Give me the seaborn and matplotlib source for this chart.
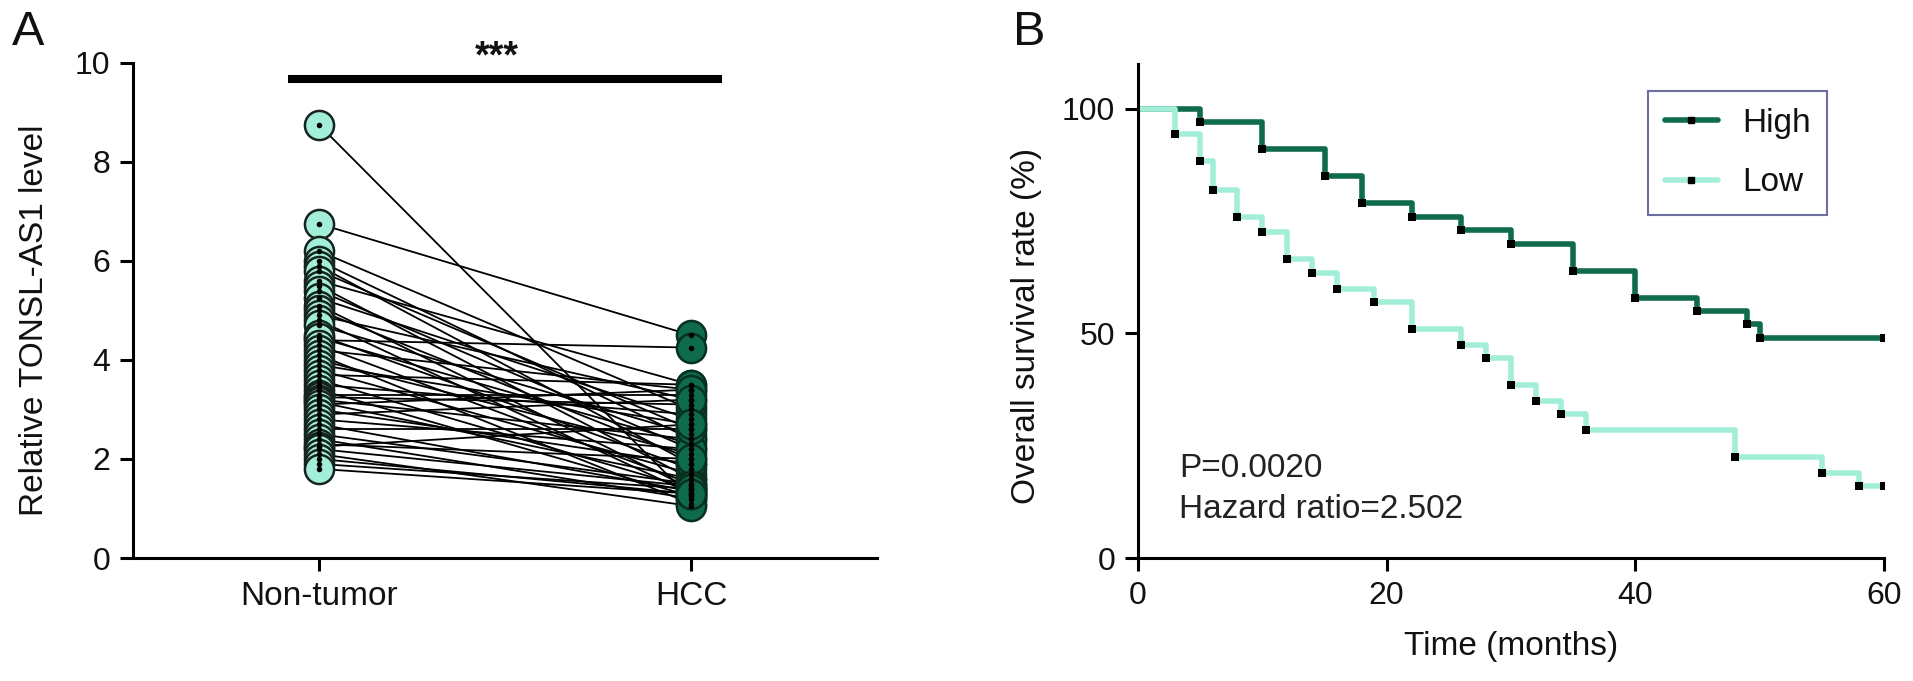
import numpy as np
import pandas as pd
import matplotlib
matplotlib.use("Agg")
import matplotlib.pyplot as plt
from matplotlib.lines import Line2D
import seaborn as sns

# ---- panel A data (paired samples) ----
groups = ["Non-tumor", "HCC"]
non_tumor = [8.75, 6.75, 6.2, 6.0, 5.9, 5.8, 5.6, 5.5, 5.4, 5.25, 5.1, 5.0, 4.9, 4.8,
             4.7, 4.4, 4.5, 4.45, 4.3, 4.2, 4.1, 4.0, 3.9, 3.8, 3.7, 3.6, 3.5, 3.4,
             3.3, 3.25, 3.2, 3.15, 3.1, 3.0, 2.9, 2.8, 2.7, 2.6, 2.5, 2.4, 2.3, 2.25,
             2.2, 2.1, 2.0, 1.9, 1.8]
hcc = [1.2, 4.5, 3.0, 2.4, 1.9, 2.6, 3.5, 1.6, 2.2, 2.8, 1.4, 2.0, 3.2, 1.3,
       2.5, 4.25, 1.8, 2.3, 1.5, 3.4, 1.1, 2.1, 2.7, 1.7, 3.5, 1.4, 2.9, 1.25,
       3.3, 3.1, 2.4, 1.6, 3.4, 1.9, 3.2, 2.2, 1.35, 2.6, 1.5, 1.2, 2.0, 2.7,
       1.45, 1.05, 1.3, 1.4, 1.3]

# ---- panel B data (Kaplan-Meier curves) ----
km_groups = ["High", "Low"]
high_t = [0, 5, 10, 15, 18, 22, 26, 30, 35, 40, 45, 49, 50, 60]
high_s = [100, 97, 91, 85, 79, 76, 73, 70, 64, 58, 55, 52, 49, 49]
low_t = [0, 3, 5, 6, 8, 10, 12, 14, 16, 19, 22, 26, 28, 30, 32, 34, 36, 48, 55, 58, 60]
low_s = [100, 94.5, 88.5, 82, 76, 72.5, 66.5, 63.5, 60, 57, 51, 47.5, 44.5, 38.5,
         35, 32, 28.5, 22.5, 19, 16, 16]

light = "#A3EED8"
dark = "#0E6B4B"

sns.set_style("white")
plt.rcParams["font.family"] = ["Liberation Sans", "DejaVu Sans"]
plt.rcParams["axes.linewidth"] = 2.2
plt.rcParams["axes.edgecolor"] = "black"
plt.rcParams["text.color"] = "#111111"
plt.rcParams["axes.labelcolor"] = "#111111"
plt.rcParams["xtick.color"] = "black"
plt.rcParams["ytick.color"] = "black"
plt.rcParams["xtick.labelcolor"] = "#111111"
plt.rcParams["ytick.labelcolor"] = "#111111"

fig = plt.figure(figsize=(19.13, 6.81), dpi=100)
axA = fig.add_axes([0.0695, 0.1806, 0.389, 0.727])
axB = fig.add_axes([0.5949, 0.1806, 0.3899, 0.7254])

# ---------- panel A ----------
n = len(non_tumor)
pairs = pd.DataFrame({
    "pair": list(range(n)) * 2,
    "group": [groups[0]] * n + [groups[1]] * n,
    "value": non_tumor + hcc,
})
pairs["pos"] = pairs["group"].map({g: i for i, g in enumerate(groups)})

sns.lineplot(data=pairs, x="pos", y="value", units="pair", estimator=None,
             sort=False, color="black", lw=1.3, ax=axA, zorder=1)
sns.scatterplot(data=pairs[pairs.group == "Non-tumor"], x="pos", y="value",
                color=light, edgecolor="#16241f", linewidth=1.8, s=440,
                ax=axA, zorder=3, legend=False)
sns.scatterplot(data=pairs[pairs.group == "HCC"], x="pos", y="value",
                color=dark, edgecolor="#08301f", linewidth=1.8, s=440,
                ax=axA, zorder=3, legend=False)
sns.scatterplot(data=pairs, x="pos", y="value", color="black", s=16,
                linewidth=0, ax=axA, zorder=4, legend=False)

axA.set_xlim(-0.5, 1.5)
axA.set_ylim(0, 10)
axA.set_xticks([0, 1])
axA.set_xticklabels(groups, fontsize=24)
axA.set_yticks([0, 2, 4, 6, 8, 10])
axA.tick_params(axis="y", labelsize=23, length=9.4, width=2.2, pad=7, direction="out", left=True)
axA.tick_params(axis="x", length=9.4, width=2.2, pad=7, direction="out", bottom=True)
axA.set_xlabel("")
axA.set_ylabel("Relative TONSL-AS1 level", fontsize=24)
axA.yaxis.set_label_coords(-0.112, 0.48)
sns.despine(ax=axA)

# significance bar
axA.plot([-0.084, 1.084], [9.68, 9.68], color="black", lw=5.8, clip_on=False,
         solid_capstyle="butt")
axA.text(0.477, 10.1, "***", ha="center", va="center", fontsize=27,
         fontweight="bold", clip_on=False)

# ---------- panel B ----------
km = pd.DataFrame({
    "group": [km_groups[0]] * len(high_t) + [km_groups[1]] * len(low_t),
    "time": high_t + low_t,
    "surv": high_s + low_s,
})
palette = {"High": dark, "Low": light}
sns.lineplot(data=km, x="time", y="surv", hue="group", hue_order=km_groups,
             palette=palette, estimator=None, sort=False, drawstyle="steps-post",
             lw=4.0, ax=axB, legend=False)
sns.scatterplot(data=km[km.time > 0], x="time", y="surv", marker="s", s=26,
                color="black", linewidth=0, ax=axB, zorder=5, legend=False)

axB.set_xlim(0, 60)
axB.set_ylim(0, 110)
axB.set_xticks([0, 20, 40, 60])
axB.set_yticks([0, 50, 100])
axB.tick_params(axis="both", labelsize=23, length=9.4, width=2.2, pad=7,
                direction="out", left=True, bottom=True)
axB.set_xlabel("Time (months)", fontsize=24)
axB.set_ylabel("Overall survival rate (%)", fontsize=24)
axB.yaxis.set_label_coords(-0.129, 0.47)
axB.xaxis.set_label_coords(0.5, -0.148)
sns.despine(ax=axB)

axB.text(3.3, 18.0, "P=0.0020", fontsize=24, va="baseline", color="#222222")
axB.text(3.3, 8.9, "Hazard ratio=2.502", fontsize=24, va="baseline", color="#222222")

handles = [Line2D([0], [0], color=dark, lw=4.0, marker="s", markersize=4.5,
                  markerfacecolor="black", markeredgecolor="black"),
           Line2D([0], [0], color=light, lw=4.0, marker="s", markersize=4.5,
                  markerfacecolor="black", markeredgecolor="black")]
leg = axB.legend(handles, km_groups, loc="upper right", bbox_to_anchor=(0.924, 0.945),
                 fontsize=24, frameon=True, fancybox=False, handlelength=1.6,
                 handletextpad=0.72, labelspacing=0.85, borderpad=0.5,
                 borderaxespad=0, numpoints=1)
leg.get_frame().set_edgecolor("#4a4a8a")
leg.get_frame().set_linewidth(1.5)

fig.text(12 / 1913, 1 - 10 / 681, "A", fontsize=35, ha="left", va="top")
fig.text(1013 / 1913, 1 - 10 / 681, "B", fontsize=35, ha="left", va="top")

fig.savefig("out.png", dpi=100)
